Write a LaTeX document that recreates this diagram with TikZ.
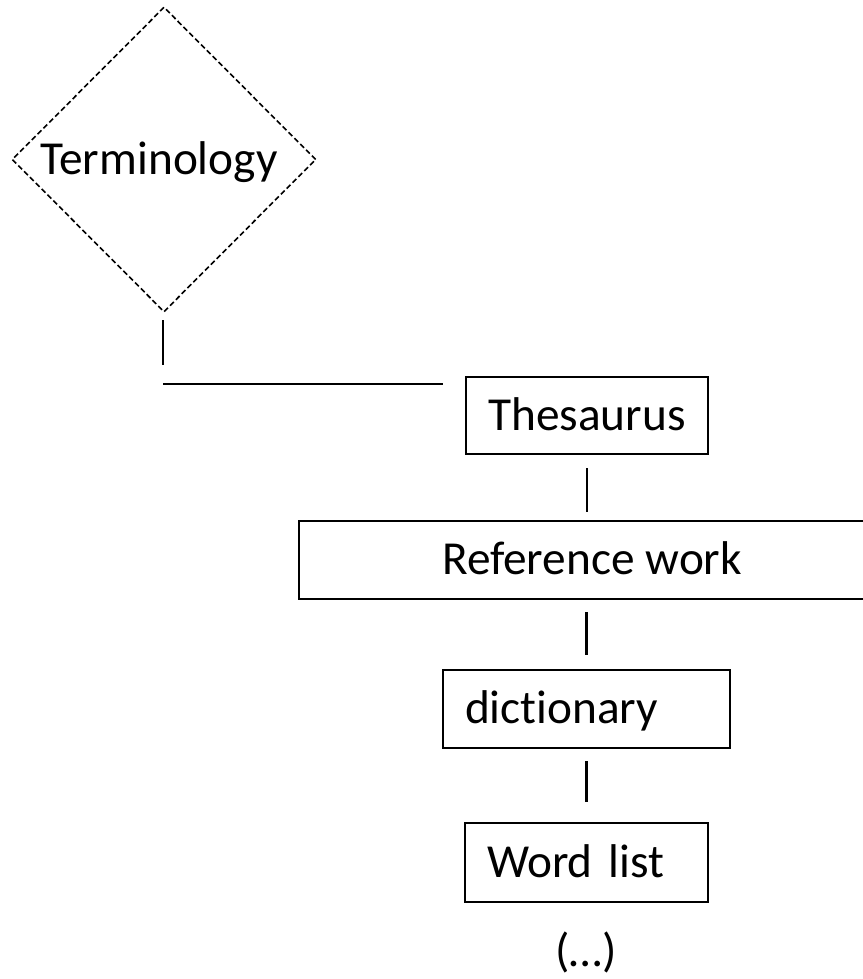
\documentclass[tikz,border=0pt]{standalone}
\usepackage{fontspec}
\setmainfont[Ligatures=NoCommon]{Carlito}
\usetikzlibrary{shapes.geometric,calc}
\tikzset{
  lbl/.style={font=\fontsize{35.5}{42}\selectfont, text height=21.75pt, text depth=0pt, inner sep=0pt},
  boxnode/.style={lbl, draw, line width=1.6pt, align=center},
  openbox/.style={lbl, align=center},
  termnode/.style={lbl, draw, diamond, dashed, dash pattern=on 4pt off 2.2pt, line width=1.2pt, minimum width=228pt, minimum height=228.75pt},
  conn/.style={line width=1.6pt}
}
\begin{document}
\begin{tikzpicture}[x=0.75pt,y=-0.75pt]
\useasboundingbox (0,0) rectangle (863,979);
\node[termnode] (term) at (164,159.5) {\hspace*{-7.5pt}Terminology};
\node[boxnode, minimum width=181.5pt, minimum height=57.75pt] (thes) at (587,415.5) {Thesaurus};
\node[openbox, minimum width=439.5pt, minimum height=58.5pt] (ref) at (592,560) {Reference work};
\draw[conn] (ref.north east) -- (ref.north west) -- (ref.south west) -- (ref.south east);
\node[boxnode, text width=182.25pt, inner xsep=16.5pt, align=left, minimum height=58.5pt] (dict) at (586.5,709) {dictionary};
\node[boxnode, text width=149.25pt, inner xsep=16.5pt, align=left, minimum height=59.25pt] (word) at (586.5,862.5) {Word list};
\node[lbl] (more) at (586,952) {(…)};
\coordinate (v1) at (163,320);
\coordinate (v2) at (163,365);
\coordinate (h1) at (163,384);
\coordinate (h2) at (443,384);
\draw[conn] (v1) -- (v2);
\draw[conn] (h1) -- (h2);
\draw[conn, shorten <=9.75pt, shorten >=6.75pt] (thes.south) -- (thes.south |- ref.north);
\draw[conn, shorten <=9.75pt, shorten >=10.5pt] (dict.north |- ref.south) -- (dict.north);
\draw[conn, shorten <=9pt, shorten >=15pt] (dict.south) -- (word.north);
\end{tikzpicture}
\end{document}
